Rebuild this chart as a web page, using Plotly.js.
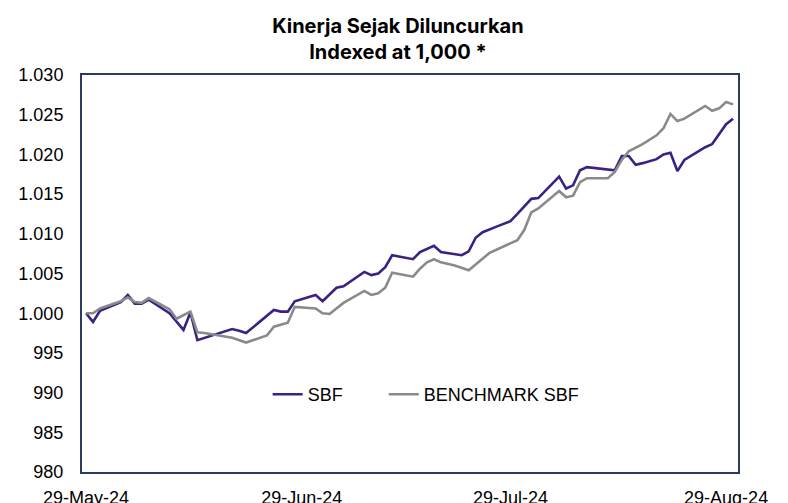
<!DOCTYPE html>
<html>
<head>
<meta charset="utf-8">
<script src="https://cdn.plot.ly/plotly-3.0.1.min.js"></script>
<style>
html,body{margin:0;padding:0;background:#fff;}
#chart{width:788px;height:503px;}
</style>
</head>
<body>
<div id="chart"></div>
<script>
// ---- data ----
var sbfDates = ['2024-05-29','2024-05-30','2024-05-31','2024-06-03','2024-06-04','2024-06-05','2024-06-06','2024-06-07',
  '2024-06-10','2024-06-12','2024-06-13','2024-06-14','2024-06-19','2024-06-20','2024-06-21','2024-06-25','2024-06-26',
  '2024-06-27','2024-06-28','2024-07-01','2024-07-02','2024-07-04','2024-07-05','2024-07-08','2024-07-09','2024-07-10',
  '2024-07-11','2024-07-12','2024-07-15','2024-07-16','2024-07-18','2024-07-19','2024-07-22','2024-07-23','2024-07-24',
  '2024-07-25','2024-07-27','2024-07-29','2024-07-30','2024-07-31','2024-08-01','2024-08-02','2024-08-05','2024-08-06',
  '2024-08-07','2024-08-08','2024-08-09','2024-08-13','2024-08-14','2024-08-15','2024-08-16','2024-08-17','2024-08-19',
  '2024-08-20','2024-08-21','2024-08-22','2024-08-23','2024-08-26','2024-08-27','2024-08-29','2024-08-30'];
var sbfValues = [1000.0,998.9,1000.3,1001.4,1002.3,1001.2,1001.2,1001.7,
  1000.0,997.9,1000.1,996.6,998.0,997.8,997.5,1000.4,1000.2,
  1000.2,1001.5,1002.3,1001.5,1003.2,1003.4,1005.2,1004.8,1005.0,
  1005.8,1007.3,1006.8,1007.7,1008.5,1007.7,1007.3,1007.8,1009.5,
  1010.2,1010.9,1011.6,1012.5,1013.4,1014.4,1014.5,1017.2,1015.7,
  1016.1,1018.0,1018.4,1018.0,1019.8,1019.8,1018.7,1018.9,1019.4,
  1020.0,1020.2,1017.9,1019.3,1020.9,1021.3,1023.8,1024.5];

var benchDates = ['2024-05-29','2024-05-30','2024-05-31','2024-06-03','2024-06-04','2024-06-05','2024-06-06','2024-06-07',
  '2024-06-10','2024-06-11','2024-06-13','2024-06-14','2024-06-15','2024-06-19','2024-06-21','2024-06-24','2024-06-25',
  '2024-06-26','2024-06-27','2024-06-28','2024-06-30','2024-07-01','2024-07-02','2024-07-03','2024-07-05','2024-07-08',
  '2024-07-09','2024-07-10','2024-07-11','2024-07-12','2024-07-15','2024-07-16','2024-07-17','2024-07-18','2024-07-19',
  '2024-07-21','2024-07-23','2024-07-26','2024-07-30','2024-07-31','2024-08-01','2024-08-02','2024-08-05','2024-08-06',
  '2024-08-07','2024-08-08','2024-08-09','2024-08-12','2024-08-13','2024-08-14','2024-08-15','2024-08-16','2024-08-17',
  '2024-08-19','2024-08-20','2024-08-21','2024-08-22','2024-08-23','2024-08-26','2024-08-27','2024-08-28','2024-08-29','2024-08-30'];
var benchValues = [1000.0,1000.0,1000.6,1001.5,1002.0,1001.4,1001.3,1001.9,
  1000.5,999.3,1000.2,997.6,997.5,996.9,996.3,997.2,998.3,
  998.6,998.8,1000.8,1000.7,1000.6,1000.0,999.9,1001.3,1002.8,
  1002.3,1002.5,1003.2,1005.1,1004.6,1005.6,1006.4,1006.8,1006.4,
  1006.0,1005.4,1007.6,1009.2,1010.5,1012.7,1013.2,1015.4,1014.6,
  1014.8,1016.5,1017.0,1017.0,1017.8,1019.3,1020.4,1020.8,1021.3,
  1022.4,1023.3,1025.1,1024.2,1024.5,1026.1,1025.5,1025.8,1026.6,1026.3];

var seriesNames = ['SBF','BENCHMARK SBF'];
var xTickVals = ['2024-05-29','2024-06-29','2024-07-29','2024-08-29'];
var xTickText = ['29-May-24','29-Jun-24','29-Jul-24','29-Aug-24'];
var yTickVals = [1030,1025,1020,1015,1010,1005,1000,995,990,985,980];
var yTickText = ['1.030','1.025','1.020','1.015','1.010','1.005','1.000','995','990','985','980'];

var traces = [
  {x: sbfDates, y: sbfValues, name: seriesNames[0], type: 'scatter', mode: 'lines',
   line: {color: '#3b2183', width: 2.6}, legend: 'legend'},
  {x: benchDates, y: benchValues, name: seriesNames[1], type: 'scatter', mode: 'lines',
   line: {color: '#8a8a8a', width: 2.6}, legend: 'legend2'}
];

var legendCommon = {orientation: 'h', xanchor: 'left', y: 0.195, yanchor: 'middle',
  bgcolor: 'rgba(0,0,0,0)', font: {size: 18}};

var layout = {
  width: 788, height: 503,
  margin: {l: 82, r: 50, t: 75, b: 31},
  paper_bgcolor: '#ffffff', plot_bgcolor: '#ffffff',
  font: {family: '"Liberation Sans", Arial, sans-serif', size: 18, color: '#000000'},
  title: {
    text: '<b>Kinerja Sejak Diluncurkan</b><br><b>Indexed at 1,000 *</b>',
    font: {family: 'Inter, "Noto Sans", sans-serif', size: 20, color: '#000000'},
    x: 0.505, xanchor: 'center', y: 0.935, yanchor: 'top', yref: 'container'
  },
  xaxis: {
    type: 'date',
    range: ['2024-05-28 10:00', '2024-08-30 17:00'],
    tickvals: xTickVals, ticktext: xTickText,
    showgrid: false, zeroline: false,
    showline: true, mirror: true, linecolor: '#2a3b5f', linewidth: 2,
    ticks: '', ticklabelstandoff: 8,
    tickfont: {size: 18}
  },
  yaxis: {
    range: [980, 1030],
    tickvals: yTickVals, ticktext: yTickText,
    showgrid: false, zeroline: false,
    showline: true, mirror: true, linecolor: '#2a3b5f', linewidth: 2,
    ticks: '', ticklabelstandoff: 13,
    tickfont: {size: 18}
  },
  showlegend: true,
  legend: Object.assign({}, legendCommon, {x: 0.283}),
  legend2: Object.assign({}, legendCommon, {x: 0.460})
};

Plotly.newPlot('chart', traces, layout, {displayModeBar: false, staticPlot: true});
</script>
</body>
</html>
